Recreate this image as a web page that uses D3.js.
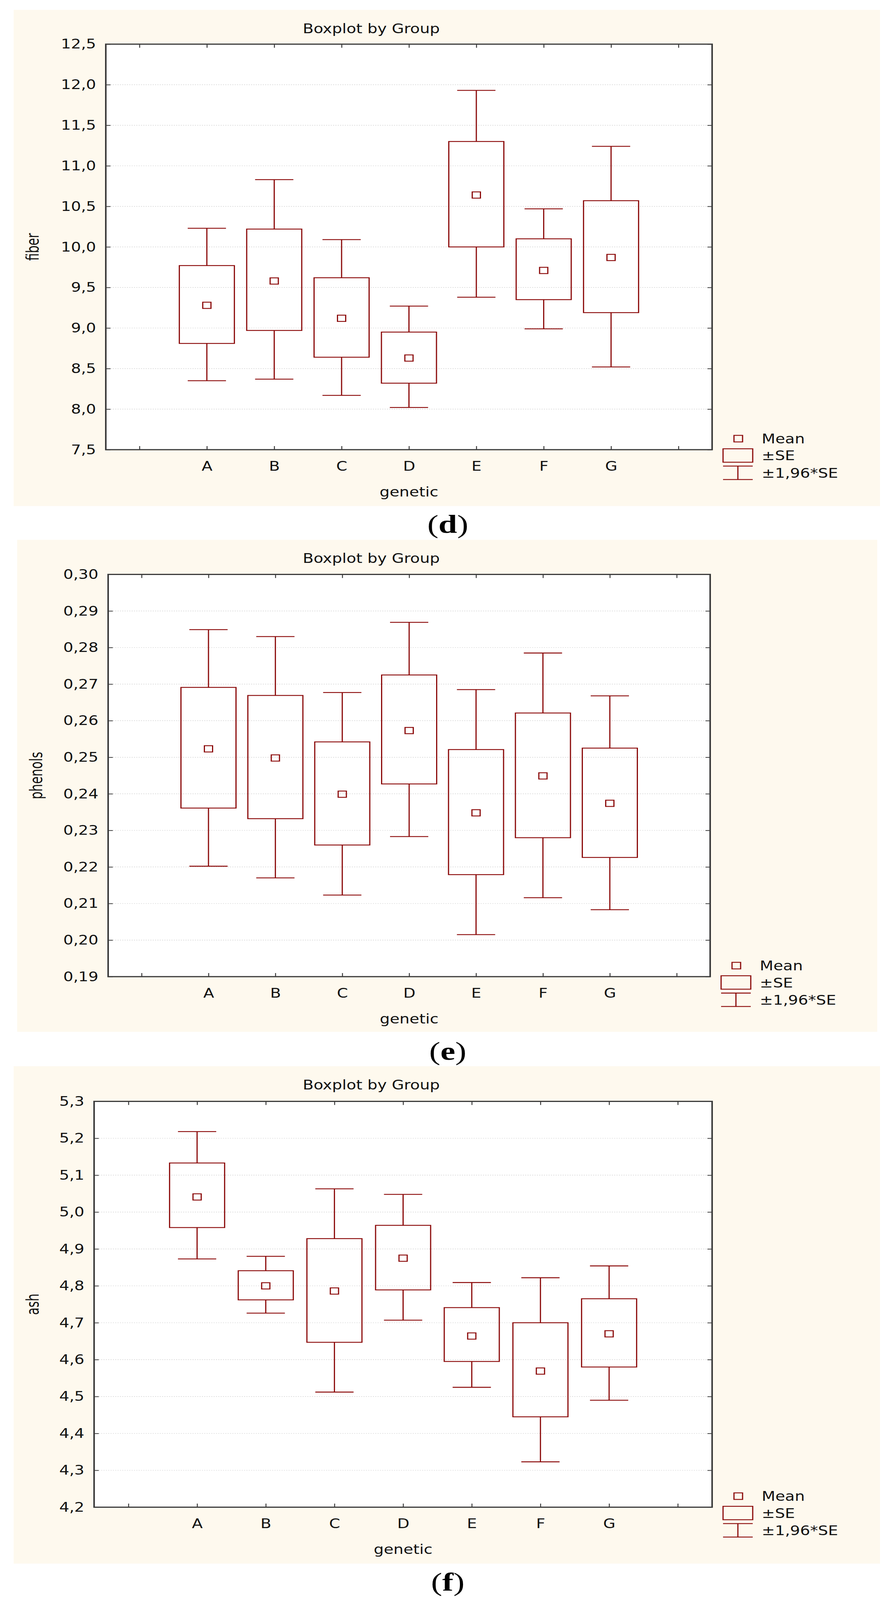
<!DOCTYPE html>
<html>
<head>
<meta charset="utf-8">
<style>
  html, body { margin: 0; padding: 0; background: #fff; overflow: hidden; }
  svg { display: block; }
  svg text { font-family: "DejaVu Sans Condensed", "DejaVu Sans", sans-serif; font-stretch: condensed; fill: #111; }
  svg text.capt, svg text.capt tspan { font-family: "Liberation Serif", "Times New Roman", serif; font-stretch: normal; fill: #000; }
</style>
</head>
<body>
<svg></svg>
<script src="https://d3js.org/d3.v7.min.js"></script>
<script>
// groups on the x axis, same for all three plots
var groups = ["A", "B", "C", "D", "E", "F", "G"];

// (d) fiber
var fiberMean   = [9.28, 9.58, 9.12, 8.63, 10.64, 9.71, 9.87];
var fiberSeHigh = [9.77, 10.22, 9.62, 8.95, 11.30, 10.10, 10.57];
var fiberSeLow  = [8.81, 8.97, 8.64, 8.32, 10.00, 9.35, 9.19];
var fiberCiHigh = [10.23, 10.83, 10.09, 9.27, 11.93, 10.47, 11.24];
var fiberCiLow  = [8.35, 8.37, 8.17, 8.02, 9.38, 8.99, 8.52];
var fiberTicks  = [7.5, 8.0, 8.5, 9.0, 9.5, 10.0, 10.5, 11.0, 11.5, 12.0, 12.5];

// (e) phenols
var phenolsMean   = [0.2523, 0.2498, 0.2399, 0.2573, 0.2348, 0.2449, 0.2374];
var phenolsSeHigh = [0.2691, 0.2669, 0.2542, 0.2725, 0.2521, 0.2621, 0.2525];
var phenolsSeLow  = [0.2361, 0.2332, 0.2260, 0.2427, 0.2179, 0.2280, 0.2226];
var phenolsCiHigh = [0.2849, 0.2830, 0.2677, 0.2869, 0.2685, 0.2785, 0.2668];
var phenolsCiLow  = [0.2202, 0.2170, 0.2123, 0.2283, 0.2015, 0.2116, 0.2083];
var phenolsTicks  = [0.19, 0.20, 0.21, 0.22, 0.23, 0.24, 0.25, 0.26, 0.27, 0.28, 0.29, 0.30];

// (f) ash
var ashMean   = [5.041, 4.800, 4.786, 4.875, 4.664, 4.569, 4.670];
var ashSeHigh = [5.133, 4.841, 4.928, 4.964, 4.741, 4.700, 4.765];
var ashSeLow  = [4.958, 4.762, 4.647, 4.789, 4.595, 4.445, 4.580];
var ashCiHigh = [5.218, 4.880, 5.063, 5.048, 4.809, 4.822, 4.854];
var ashCiLow  = [4.873, 4.726, 4.512, 4.707, 4.525, 4.323, 4.490];
var ashTicks  = [4.2, 4.3, 4.4, 4.5, 4.6, 4.7, 4.8, 4.9, 5.0, 5.1, 5.2, 5.3];

var legendLabels = ["Mean", "±SE", "±1,96*SE"];

var RED = "#8b0a0a", AXIS = "#3c3c3c", BG = "#fef9ee";
var locale = d3.formatLocale({decimal: ",", thousands: ".", grouping: [3], currency: ["", ""]});

// drawing is laid out on the 2295x5362 figure; the window may be shorter,
// so stretch the whole figure onto whatever the window really is
var svg = d3.select("svg")
  .attr("width", window.innerWidth || 2295)
  .attr("height", window.innerHeight || 5362)
  .attr("viewBox", "0 0 2295 5362")
  .attr("preserveAspectRatio", "none");

var panels = [
  {bg: [35, 33, 2254, 1696], plot: [271, 148, 1824, 1507], ticks: fiberTicks, fmt: ".1f", ylab: "fiber",
   mean: fiberMean, seHi: fiberSeHigh, seLo: fiberSeLow, ciHi: fiberCiHigh, ciLo: fiberCiLow, cap: "d", capY: 1786},
  {bg: [44, 1809, 2247, 3458], plot: [277, 1925, 1819, 3273], ticks: phenolsTicks, fmt: ".2f", ylab: "phenols",
   mean: phenolsMean, seHi: phenolsSeHigh, seLo: phenolsSeLow, ciHi: phenolsCiHigh, ciLo: phenolsCiLow, cap: "e", capY: 3551},
  {bg: [35, 3573, 2254, 5240], plot: [241, 3691, 1824, 5051], ticks: ashTicks, fmt: ".1f", ylab: "ash",
   mean: ashMean, seHi: ashSeHigh, seLo: ashSeLow, ciHi: ashCiHigh, ciLo: ashCiLow, cap: "f", capY: 5330}
];

panels.forEach(function (p) {
  var L = p.plot[0], T = p.plot[1], R = p.plot[2], B = p.plot[3];
  var g = svg.append("g");

  g.append("rect")
    .attr("x", p.bg[0]).attr("y", p.bg[1])
    .attr("width", p.bg[2] - p.bg[0]).attr("height", p.bg[3] - p.bg[1])
    .attr("fill", BG);
  g.append("rect")
    .attr("x", L).attr("y", T).attr("width", R - L).attr("height", B - T)
    .attr("fill", "#fff");

  // empty slot on each side, like the original
  var x = d3.scalePoint().domain(["_l"].concat(groups, ["_r"])).range([L, R]).padding(0.5);
  var y = d3.scaleLinear().domain(d3.extent(p.ticks)).range([B, T]);
  var fmt = locale.format(p.fmt);

  // dotted grid
  g.append("g").selectAll("line")
    .data(p.ticks.slice(1, -1))
    .join("line")
    .attr("x1", L).attr("x2", R)
    .attr("y1", function (d) { return y(d); })
    .attr("y2", function (d) { return y(d); })
    .attr("stroke", "#cfcfcf").attr("stroke-width", 1.5).attr("stroke-dasharray", "3,3");

  var xLabel = function (d) { return d.charAt(0) === "_" ? "" : d; };

  var axB = g.append("g").attr("transform", "translate(0," + B + ")")
    .call(d3.axisBottom(x).tickSize(-12).tickSizeOuter(0).tickFormat(xLabel));
  axB.selectAll("text").attr("y", 55).attr("dy", "0.35em");
  g.append("g").attr("transform", "translate(0," + T + ")")
    .call(d3.axisTop(x).tickSize(-12).tickSizeOuter(0).tickFormat(""));
  g.append("g").attr("transform", "translate(" + L + ",0)")
    .call(d3.axisLeft(y).tickValues(p.ticks).tickSize(-12).tickSizeOuter(0).tickPadding(25).tickFormat(fmt));
  g.append("g").attr("transform", "translate(" + R + ",0)")
    .call(d3.axisRight(y).tickValues(p.ticks).tickSize(-12).tickSizeOuter(0).tickFormat(""));

  g.selectAll(".domain").remove();
  g.selectAll(".tick line").attr("stroke", AXIS).attr("stroke-width", 2.5);
  g.selectAll(".tick text").attr("font-size", 45).attr("font-family", null).attr("fill", "#111");

  g.append("rect")
    .attr("x", L).attr("y", T).attr("width", R - L).attr("height", B - T)
    .attr("fill", "none").attr("stroke", AXIS).attr("stroke-width", 4);

  // boxes: +-SE, whiskers: +-1.96*SE, square: mean
  var boxW = 141, capW = 98, mk = 21;
  var rows = groups.map(function (k, i) {
    return {k: k, mean: p.mean[i], seHi: p.seHi[i], seLo: p.seLo[i], ciHi: p.ciHi[i], ciLo: p.ciLo[i]};
  });
  var bx = g.append("g").attr("stroke", RED).attr("fill", "none").attr("stroke-width", 3);
  var item = bx.selectAll("g").data(rows).join("g");
  item.append("line")
    .attr("x1", function (d) { return x(d.k); }).attr("x2", function (d) { return x(d.k); })
    .attr("y1", function (d) { return y(d.ciHi); }).attr("y2", function (d) { return y(d.seHi); });
  item.append("line")
    .attr("x1", function (d) { return x(d.k); }).attr("x2", function (d) { return x(d.k); })
    .attr("y1", function (d) { return y(d.seLo); }).attr("y2", function (d) { return y(d.ciLo); });
  item.append("line")
    .attr("x1", function (d) { return x(d.k) - capW / 2; }).attr("x2", function (d) { return x(d.k) + capW / 2; })
    .attr("y1", function (d) { return y(d.ciHi); }).attr("y2", function (d) { return y(d.ciHi); });
  item.append("line")
    .attr("x1", function (d) { return x(d.k) - capW / 2; }).attr("x2", function (d) { return x(d.k) + capW / 2; })
    .attr("y1", function (d) { return y(d.ciLo); }).attr("y2", function (d) { return y(d.ciLo); });
  item.append("rect")
    .attr("x", function (d) { return x(d.k) - boxW / 2; })
    .attr("y", function (d) { return y(d.seHi); })
    .attr("width", boxW)
    .attr("height", function (d) { return y(d.seLo) - y(d.seHi); });
  item.append("rect")
    .attr("x", function (d) { return x(d.k) - mk / 2; })
    .attr("y", function (d) { return y(d.mean) - mk / 2; })
    .attr("width", mk).attr("height", mk);

  // titles
  g.append("text").attr("x", 951).attr("y", p.bg[1] + 62).attr("dy", "0.35em")
    .attr("text-anchor", "middle").attr("font-size", 45).text("Boxplot by Group");
  g.append("text").attr("x", (L + R) / 2).attr("y", B + 141).attr("dy", "0.35em")
    .attr("text-anchor", "middle").attr("font-size", 45).text("genetic");
  g.append("text")
    .attr("transform", "translate(" + (p.bg[0] + 48) + "," + ((T + B) / 2) + ") rotate(-90)")
    .attr("dy", "0.35em").attr("text-anchor", "middle").attr("font-size", 45).text(p.ylab);

  // legend
  var lg = g.append("g").attr("transform", "translate(" + R + "," + B + ")");
  var sym = lg.append("g").attr("stroke", RED).attr("fill", "none").attr("stroke-width", 3);
  sym.append("rect").attr("x", 67 - 11).attr("y", -37 - 11).attr("width", 22).attr("height", 22);
  sym.append("rect").attr("x", 28).attr("y", -3).attr("width", 76).attr("height", 45);
  sym.append("line").attr("x1", 28).attr("x2", 104).attr("y1", 55).attr("y2", 55);
  sym.append("line").attr("x1", 28).attr("x2", 104).attr("y1", 100).attr("y2", 100);
  sym.append("line").attr("x1", 66).attr("x2", 66).attr("y1", 55).attr("y2", 100);
  lg.selectAll("text.lg").data(legendLabels).join("text").attr("class", "lg")
    .attr("x", 127).attr("y", function (d, i) { return [-37, 20, 78][i]; })
    .attr("dy", "0.35em").attr("font-size", 45).text(function (d) { return d; });

  // panel caption (d)/(e)/(f), serif like the journal figure
  var cap = svg.append("text").attr("class", "capt")
    .attr("x", 1147).attr("y", p.capY).attr("text-anchor", "middle")
    .attr("font-size", 86);
  cap.append("tspan").text("(");
  cap.append("tspan").attr("font-weight", "bold").text(p.cap);
  cap.append("tspan").text(")");
});
</script>
</body>
</html>
